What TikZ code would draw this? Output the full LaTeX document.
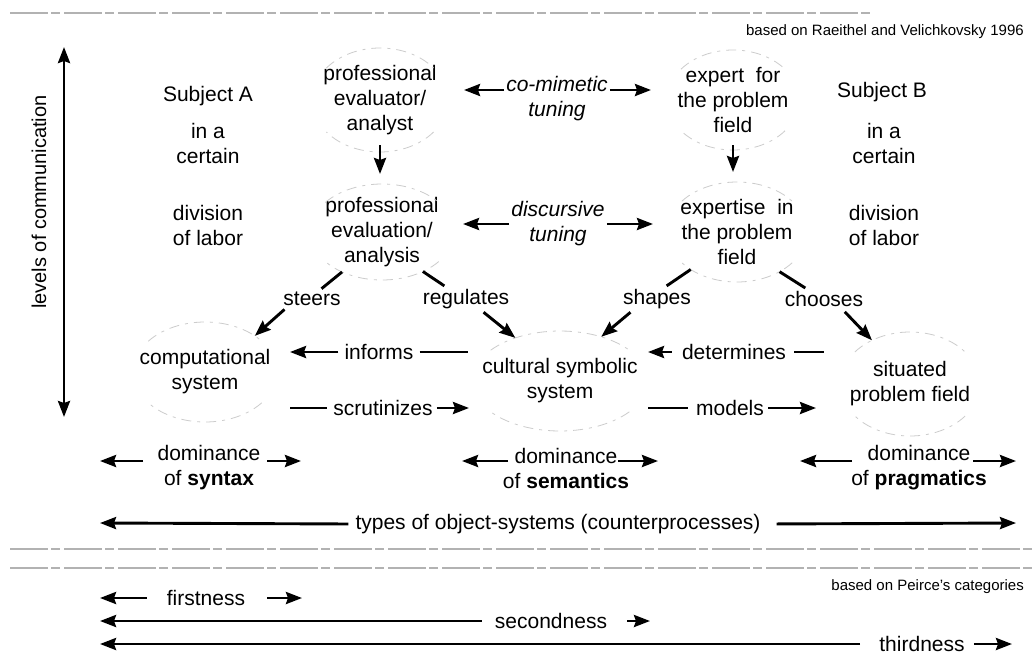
\documentclass[tikz,border=0pt]{standalone}
\usepackage{fontspec}
\setmainfont{Liberation Sans}
\usetikzlibrary{arrows.meta,shapes.geometric}

\newcommand\basefont{\fontsize{21}{25}\selectfont}
\newcommand\notefont{\fontsize{15}{18}\selectfont}

% object-system: invisible elliptic node (for anchors), its text, and a faint dashed halo
\newcommand\objsys[6]{%
  \node[objsys, minimum width={2*#4pt}, minimum height={2*#5pt}] (#1) at (#2,#3) {};
  \node[txt] (#1-t) at (#1.center) {#6};
  \draw[halo] (#2,#3) ++(38:#4 and #5) arc[start angle=38, end angle=142, x radius=#4, y radius=#5];
  \draw[halo] (#2,#3) ++(218:#4 and #5) arc[start angle=218, end angle=322, x radius=#4, y radius=#5];
}

\begin{document}
\begin{tikzpicture}[x=1pt,y=-1pt,
  base/.style={font=\basefont, inner sep=2pt},
  txt/.style={base, align=center},
  lbl/.style={align=center, font=\basefont\itshape, inner sep=2pt},
  note/.style={font=\notefont, inner sep=0pt, anchor=east},
  conn/.style={line width=2.9pt},
  tip/.tip={Stealth[length=16pt,width=12pt,inset=2pt]},
  arr/.style={conn, -tip},
  darr/.style={conn, tip-tip},
  halo/.style={gray!40, line width=0.8pt, dash pattern=on 10pt off 6pt on 3pt off 6pt},
  rule/.style={gray!60, line width=1.1pt, dash pattern=on 38pt off 3pt on 9pt off 4pt},
  objsys/.style={ellipse, inner sep=0pt, outer sep=0pt}
]
\useasboundingbox (0,0) rectangle (1032,659);
\fill[white] (0,0) rectangle (1032,659);

% separating rules
\coordinate (r0a) at (10,13);  \coordinate (r0b) at (872,13);
\coordinate (r1a) at (10,549); \coordinate (r1b) at (1032,549);
\coordinate (r2a) at (10,568); \coordinate (r2b) at (1032,568);
\draw[rule] (r0a) -- (r0b);
\draw[rule] (r1a) -- (r1b);
\draw[rule] (r2a) -- (r2b);

% sources
\node[note] (src1) at (1024,32) {based on Raeithel and Velichkovsky 1996};
\node[note] (src2) at (1024,587) {based on Peirce's categories};

% levels axis
\coordinate (vt) at (64,47); \coordinate (vb) at (64,417);
\draw[darr] (vt) -- (vb);
\node[base, rotate=90, font=\fontsize{20}{24}\selectfont] (lev) at (39,202) {levels of communication};

% subjects
\node[txt] (sa)  at (208,96)  {Subject A};
\node[txt] (sa1) at (208,143) {in a\\certain};
\node[txt] (sa2) at (208,225) {division\\of labor};
\node[txt] (sb)  at (882,92)  {Subject B};
\node[txt] (sb1) at (884,143) {in a\\certain};
\node[txt] (sb2) at (884,225) {division\\of labor};

% object systems
\objsys{e1}{380}{100}{68}{52}{professional\\evaluator/\\analyst}
\objsys{e2}{733}{100}{66}{50}{expert\ \ for\\the problem\\field}
\objsys{e3}{382}{232}{72}{48}{professional\\evaluation/\\analysis}
\objsys{e4}{737}{232}{70}{50}{expertise\ \ in\\the problem\\field}
\objsys{e5}{205}{372}{72}{50}{computational\\system}
\objsys{e6}{560}{381}{88}{50}{cultural symbolic\\system}
\objsys{e7}{910}{384}{70}{52}{situated\\problem field}

% downward arrows
\draw[arr, shorten <=-7pt, shorten >=10pt] (e1.south) -- (e1.south |- e3.north);
\draw[arr, shorten <=-5pt, shorten >=10pt] (e2.south) -- (e2.south |- e4.north);

% tuning
\node[lbl] (cm) at (557,99) {co-mimetic\\tuning};
\coordinate (cmL) at ([yshift=9pt]cm.west);
\coordinate (cmR) at ([yshift=9pt]cm.east);
\draw[arr, shorten >=16pt] (cmL) -- (cmL -| e1.east);
\draw[arr, shorten >=16pt] (cmR) -- (cmR -| e2.west);

\node[lbl] (dt) at (558,224) {discursive\\tuning};
\draw[arr, shorten >=9pt]  (dt.west) -- (dt.west -| e3.east);
\draw[arr, shorten >=14pt] (dt.east) -- (dt.east -| e4.west);

% steering relations
\node[base] (st) at (312,299) {steers};
\node[base] (rg) at (466,299) {regulates};
\node[base] (sh) at (657,299) {shapes};
\node[base] (ch) at (824,299) {chooses};
\draw[conn, shorten >=2pt] (e3.-135) -- ([xshift=8pt]st.north);
\draw[arr, shorten <=2pt]  ([xshift=-26pt]st.south) -- (e5.36);
\draw[conn, shorten >=2pt] (e3.-44) -- ([xshift=-20pt]rg.north);
\draw[arr, shorten <=2pt]  ([xshift=16pt]rg.south) -- (e6.136);
\draw[conn, shorten >=2pt] (e4.-141) -- ([xshift=8pt]sh.north);
\draw[arr, shorten <=2pt]  ([xshift=-25pt]sh.south) -- (e6.47);
\draw[conn, shorten >=2pt] (e4.-43) -- ([xshift=-17pt]ch.north);
\draw[arr, shorten <=4pt]  ([xshift=18pt]ch.south) -- (e7.131);

% relations between object systems
\node[base] (inf) at (379,352) {informs};
\node[base] (scr) at (383,408) {scrutinizes};
\node[base] (det) at (734,352) {determines};
\node[base] (mod) at (730,408) {models};
\draw[arr, shorten <=4pt, shorten >=13pt] (inf.west) -- (e5.east |- inf);
\draw[conn, shorten <=4pt, shorten >=4pt] (inf.east) -- (e6.west |- inf);
\draw[conn, shorten <=13pt, shorten >=4pt] (e5.east |- scr) -- (scr.west);
\draw[arr, shorten <=2pt, shorten >=3pt] (scr.east) -- (e6.west |- scr);
\draw[arr, shorten <=8pt] (det.west) -- (e6.east |- det);
\draw[conn, shorten <=6pt, shorten >=16pt] (det.east) -- (e7.west |- det);
\draw[conn, shorten >=6pt] (e6.east |- mod) -- (mod.west);
\draw[arr, shorten <=2pt, shorten >=24pt] (mod.east) -- (e7.west |- mod);

% dominance
\node[txt] (d1) at (209,468) {dominance\\of \textbf{syntax}};
\node[txt] (d2) at (566,468) {dominance\\of \textbf{semantics}};
\node[txt] (d3) at (919,468) {dominance\\of \textbf{pragmatics}};
\coordinate (d1l) at (100,461); \coordinate (d1r) at (301,461);
\coordinate (d2l) at (462,461); \coordinate (d2r) at (658,461);
\coordinate (d3l) at (800,461); \coordinate (d3r) at (1016,461);
\draw[arr] ([shift={(-66,-7)}]d1.center) -- (d1l);
\draw[arr] ([shift={(58,-7)}]d1.center)  -- (d1r);
\draw[arr] ([shift={(-58,-7)}]d2.center) -- (d2l);
\draw[arr] ([shift={(52,-7)}]d2.center)  -- (d2r);
\draw[arr] ([shift={(-67,-7)}]d3.center) -- (d3l);
\draw[arr] ([shift={(54,-7)}]d3.center)  -- (d3r);

% types of object-systems
\node[base] (ty) at (558,524) {types of object-systems (counterprocesses)};
\coordinate (tyl) at (100,523); \coordinate (tyr) at (1016,523);
\draw[arr, shorten <=5pt] (ty.west) -- (tyl);
\draw[arr, shorten <=14pt] (ty.east) -- (tyr);

% Peirce's categories
\node[base] (fi) at (206,598) {firstness};
\node[base] (se) at (551,621) {secondness};
\node[base] (th) at (922,644) {thirdness};
\coordinate (fil) at (100,598); \coordinate (fir) at (302,598);
\coordinate (sel) at (100,621); \coordinate (ser) at (650,621);
\coordinate (thl) at (100,644); \coordinate (thr) at (1012,644);
\draw[arr, shorten <=18pt] (fi.west) -- (fil);
\draw[arr, shorten <=20pt] (fi.east) -- (fir);
\draw[arr, shorten <=11pt] (se.west) -- (sel);
\draw[arr, shorten <=18pt] (se.east) -- (ser);
\draw[arr, shorten <=17pt] (th.west) -- (thl);
\draw[arr, shorten <=7pt] (th.east) -- (thr);
\end{tikzpicture}
\end{document}
